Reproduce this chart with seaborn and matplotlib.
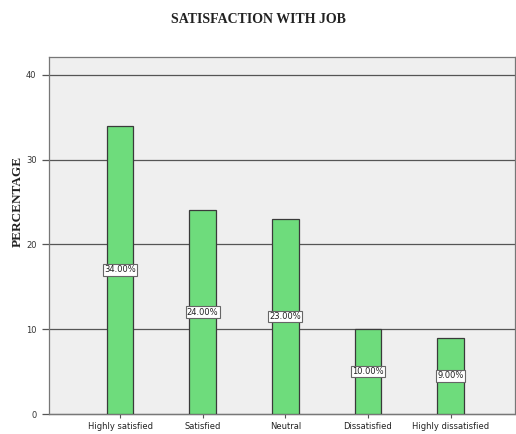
import matplotlib
matplotlib.use("Agg")
import matplotlib.pyplot as plt
import seaborn as sns
import pandas as pd

# data
categories = ["Highly satisfied", "Satisfied", "Neutral", "Dissatisfied", "Highly dissatisfied"]
percentages = [34, 24, 23, 10, 9]
bar_labels = ["34.00%", "24.00%", "23.00%", "10.00%", "9.00%"]
y_ticks = [0, 10, 20, 30, 40]

df = pd.DataFrame({"Category": categories, "Percentage": percentages})

sns.set_style("white")

fig = plt.figure(figsize=(5.16, 4.34), dpi=100)
ax = fig.add_axes([0.095, 0.046, 0.903, 0.823])
ax.set_facecolor("#efefef")

sns.barplot(data=df, x="Category", y="Percentage", color="#6edc7c",
            width=0.32, edgecolor="#3a3a3a", linewidth=0.9, saturation=1,
            ax=ax, zorder=3)

ax.set_xlim(-0.86, 4.78)
ax.set_ylim(0, 42.1)
ax.set_yticks(y_ticks)
# gridlines that run out past the left spine like SPSS tick marks
ax.hlines(y_ticks, -0.016, 1, transform=ax.get_yaxis_transform(),
          color="#555555", linewidth=0.9, zorder=1, clip_on=False)
# small x tick marks under each category
ax.vlines(range(len(categories)), -0.012, 0, transform=ax.get_xaxis_transform(),
          color="#555555", linewidth=0.8, clip_on=False)

# value labels placed at the middle of every bar
for i, (v, lab) in enumerate(zip(percentages, bar_labels)):
    ax.text(i, v / 2, lab, ha="center", va="center", fontsize=6,
            family="DejaVu Sans", color="#222222", zorder=5,
            bbox=dict(boxstyle="square,pad=0.15", fc="white", ec="#666666", lw=0.8))

for s in ax.spines.values():
    s.set_color("#777777")
    s.set_linewidth(0.9)

ax.tick_params(axis="y", length=0, labelsize=6, labelcolor="#333333", pad=9)
ax.tick_params(axis="x", length=0, labelsize=6, labelcolor="#222222", pad=6)

ax.set_xlabel("")
ax.set_ylabel("")
fig.text(0.035, 0.535, "PERCENTAGE", rotation=90, ha="center", va="center",
         fontsize=9.5, fontweight="bold", family="Liberation Serif", color="#222222")
fig.text(0.5, 0.956, "SATISFACTION WITH JOB", ha="center", va="center",
         fontsize=10, fontweight="bold", family="Liberation Serif", color="#222222")

fig.savefig("out.png", dpi=100)
